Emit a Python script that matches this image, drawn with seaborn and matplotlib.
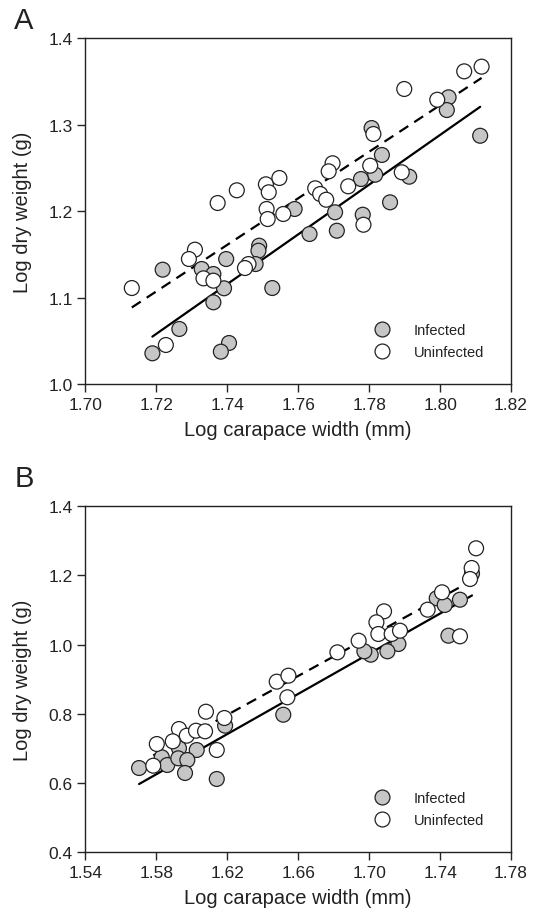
import numpy as np
import pandas as pd
import seaborn as sns
from matplotlib import pyplot as plt

# panel A (log carapace width, log dry weight)
a_inf_x = [1.7590, 1.8024, 1.8019, 1.8113, 1.7807, 1.7836, 1.7817, 1.7777, 1.7913, 1.7859,
           1.7782, 1.7709, 1.7632, 1.7704, 1.7218, 1.7328, 1.7361, 1.7397, 1.7391, 1.7361,
           1.7265, 1.7189, 1.7405, 1.7382, 1.7490, 1.7488, 1.7480, 1.7527]
a_inf_y = [1.2025, 1.3315, 1.3168, 1.2871, 1.2960, 1.2649, 1.2421, 1.2371, 1.2398, 1.2102,
           1.1959, 1.1774, 1.1736, 1.1987, 1.1324, 1.1332, 1.1274, 1.1447, 1.1109, 1.0947,
           1.0639, 1.0358, 1.0477, 1.0377, 1.1601, 1.1543, 1.1389, 1.1112]
a_uninf_x = [1.7373, 1.7427, 1.7509, 1.7547, 1.7517, 1.7511, 1.7514, 1.7558, 1.8068, 1.8117,
             1.7899, 1.7992, 1.7812, 1.7803, 1.7892, 1.7784, 1.7697, 1.7686, 1.7741, 1.7648,
             1.7662, 1.7679, 1.7131, 1.7309, 1.7292, 1.7333, 1.7361, 1.7227, 1.7460, 1.7450]
a_uninf_y = [1.2094, 1.2241, 1.2310, 1.2383, 1.2218, 1.2025, 1.1909, 1.1967, 1.3615, 1.3669,
             1.3411, 1.3287, 1.2891, 1.2525, 1.2449, 1.1843, 1.2553, 1.2460, 1.2287, 1.2264,
             1.2198, 1.2132, 1.1112, 1.1555, 1.1447, 1.1224, 1.1197, 1.0454, 1.1389, 1.1343]

# panel B
b_inf_x = [1.7381, 1.7426, 1.7512, 1.7447, 1.7165, 1.7103, 1.7009, 1.6973, 1.6516, 1.6188,
           1.6028, 1.5928, 1.5831, 1.5862, 1.5924, 1.5975, 1.5703, 1.5962, 1.6141, 1.7580]
b_inf_y = [1.1335, 1.1141, 1.1294, 1.0255, 1.0015, 0.9804, 0.9706, 0.9804, 0.7973, 0.7656,
           0.6954, 0.7003, 0.6743, 0.6521, 0.6714, 0.6665, 0.6434, 0.6290, 0.6117, 1.2050]
b_uninf_x = [1.7603, 1.7578, 1.7569, 1.7411, 1.7330, 1.7512, 1.7084, 1.7041, 1.7052, 1.7127,
             1.7174, 1.6941, 1.6821, 1.6479, 1.6545, 1.6539, 1.6080, 1.6184, 1.5928, 1.5972,
             1.6024, 1.6075, 1.5893, 1.5803, 1.6141, 1.5783]
b_uninf_y = [1.2779, 1.2210, 1.1892, 1.1508, 1.1006, 1.0237, 1.0959, 1.0642, 1.0304, 1.0304,
             1.0399, 1.0110, 0.9775, 0.8927, 0.9100, 0.8476, 0.8060, 0.7878, 0.7560, 0.7367,
             0.7511, 0.7494, 0.7205, 0.7127, 0.6954, 0.6501]

a_xticks = [1.70, 1.72, 1.74, 1.76, 1.78, 1.80, 1.82]
a_yticks = [1.0, 1.1, 1.2, 1.3, 1.4]
b_xticks = [1.54, 1.58, 1.62, 1.66, 1.70, 1.74, 1.78]
b_yticks = [0.4, 0.6, 0.8, 1.0, 1.2, 1.4]

sns.set_theme(style="white")
plt.rcParams['font.family'] = ['Liberation Sans', 'DejaVu Sans']

fig = plt.figure(figsize=(5.35, 9.2), dpi=100)
ax_a = fig.add_axes([0.1595, 0.5812, 0.7957, 0.3764])
ax_b = fig.add_axes([0.1595, 0.0725, 0.7957, 0.3764])

grey = '#c6c6c6'


def panel(ax, inf_x, inf_y, un_x, un_y, xticks, yticks):
    df = pd.DataFrame({
        'x': inf_x + un_x,
        'y': inf_y + un_y,
        'group': ['Infected'] * len(inf_x) + ['Uninfected'] * len(un_x),
    })
    sns.regplot(x=inf_x, y=inf_y, ax=ax, scatter=False, ci=None, truncate=True,
                line_kws=dict(color='black', lw=1.6, zorder=1))
    sns.regplot(x=un_x, y=un_y, ax=ax, scatter=False, ci=None, truncate=True,
                line_kws=dict(color='black', lw=1.6, dashes=(4.8, 3.2), zorder=1))
    sns.scatterplot(data=df, x='x', y='y', hue='group', ax=ax,
                    palette={'Infected': grey, 'Uninfected': 'white'},
                    s=115, edgecolor='#222222', linewidth=0.9, zorder=3)
    ax.set_xlim(xticks[0], xticks[-1])
    ax.set_ylim(yticks[0], yticks[-1])
    ax.set_xticks(xticks)
    ax.set_yticks(yticks)
    ax.set_xticklabels(['{:.2f}'.format(t) for t in xticks], fontsize=12.5, color='#222222')
    ax.set_yticklabels(['{:.1f}'.format(t) for t in yticks], fontsize=12.5, color='#222222')
    ax.tick_params(axis='both', direction='out', length=6, width=1, pad=3,
                   bottom=True, left=True, top=False, right=False)
    for sp in ax.spines.values():
        sp.set_color('#222222')
        sp.set_linewidth(1.0)
    ax.set_xlabel('Log carapace width (mm)', fontsize=14.5, labelpad=6, color='#222222')
    ax.set_ylabel('Log dry weight (g)', fontsize=14.5, labelpad=12, color='#222222')
    leg = ax.legend(loc='lower left', bbox_to_anchor=(0.662, 0.055), frameon=False,
                    fontsize=10.5, handletextpad=1.6, labelspacing=0.55,
                    borderaxespad=0, handlelength=1.2)
    for t in leg.get_texts():
        t.set_color('#222222')


panel(ax_a, a_inf_x, a_inf_y, a_uninf_x, a_uninf_y, a_xticks, a_yticks)
panel(ax_b, b_inf_x, b_inf_y, b_uninf_x, b_uninf_y, b_xticks, b_yticks)

fig.text(0.045, 0.977, 'A', fontsize=21, ha='center', va='center', color='#222222')
fig.text(0.045, 0.479, 'B', fontsize=21, ha='center', va='center', color='#222222')

fig.savefig('out.png', dpi=100, facecolor='white')
